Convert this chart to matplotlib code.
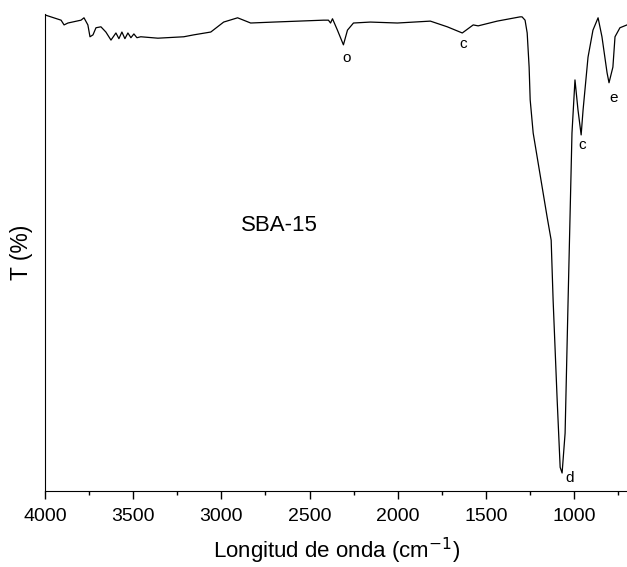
import matplotlib
matplotlib.use('Agg')
import matplotlib.pyplot as plt

plt.rcParams['font.family'] = ['Liberation Sans', 'DejaVu Sans']

# FTIR spectrum of SBA-15
wavenumber = [4000, 3909, 3892, 3870, 3796, 3779, 3757, 3745, 3728, 3711, 3683, 3655,
              3626, 3598, 3581, 3564, 3547, 3530, 3513, 3496, 3479, 3457, 3360, 3213,
              3157, 3060, 2987, 2908, 2834, 2704, 2421, 2393, 2381, 2370, 2342, 2308,
              2285, 2251, 2155, 2002, 1815, 1719, 1634, 1572, 1544, 1436, 1306, 1295,
              1278, 1266, 1255, 1249, 1232, 1153, 1130, 1119, 1096, 1079, 1068, 1051,
              1034, 1012, 995, 978, 960, 949, 921, 893, 864, 842, 813, 802, 780, 768,
              740, 700]
transmittance = [100.0, 98.9, 97.9, 98.3, 98.9, 99.4, 97.9, 95.4, 95.8, 97.3, 97.5, 96.4,
                 94.7, 96.2, 95.0, 96.4, 95.0, 96.2, 95.2, 96.0, 95.2, 95.4, 95.1, 95.4,
                 95.8, 96.4, 98.5, 99.4, 98.3, 98.5, 98.9, 98.9, 98.3, 99.2, 96.8, 93.7,
                 96.8, 98.3, 98.5, 98.3, 98.7, 97.5, 96.2, 97.9, 97.7, 98.7, 99.6, 99.6,
                 98.9, 96.2, 89.0, 82.1, 75.1, 57.4, 52.5, 39.9, 18.8, 4.6, 3.4, 11.8,
                 39.9, 75.1, 86.3, 80.0, 74.7, 80.0, 91.1, 96.8, 99.4, 95.4, 87.8, 85.7,
                 89.0, 95.4, 97.3, 97.9]

# band labels
band_text = ['o', 'c', 'c', 'e', 'd']
band_x = [2291, 1628, 955, 774, 1023]
band_y = [90.9, 93.9, 72.6, 82.5, 2.3]


def main():
    fig = plt.figure(figsize=(6.27, 5.67), dpi=100)
    ax = fig.add_axes([0.0718, 0.134, 0.9282, 0.8413])
    ax.plot(wavenumber, transmittance, color='black', lw=0.9)

    for t, x, y in zip(band_text, band_x, band_y):
        ax.text(x, y, t, fontsize=11, ha='center', va='center')
    ax.text(2670, 55.5, 'SBA-15', fontsize=16, ha='center', va='center')

    ax.set_xlim(4000, 700)
    ax.set_ylim(-0.4, 100.2)
    ax.set_xticks([4000, 3500, 3000, 2500, 2000, 1500, 1000])
    ax.set_xticks([3750, 3250, 2750, 2250, 1750, 1250, 750], minor=True)
    ax.set_yticks([])
    ax.tick_params(axis='x', which='major', length=6, width=1, pad=6, labelsize=14, direction='out')
    ax.tick_params(axis='x', which='minor', length=3, width=1, direction='out')
    ax.spines['top'].set_visible(False)
    ax.spines['right'].set_visible(False)
    ax.set_xlabel('Longitud de onda (cm$^{-1}$)', fontsize=16, labelpad=8)
    ax.set_ylabel('T (%)', fontsize=16.5, labelpad=9)

    fig.savefig('out.png', dpi=100)


if __name__ == '__main__':
    main()
